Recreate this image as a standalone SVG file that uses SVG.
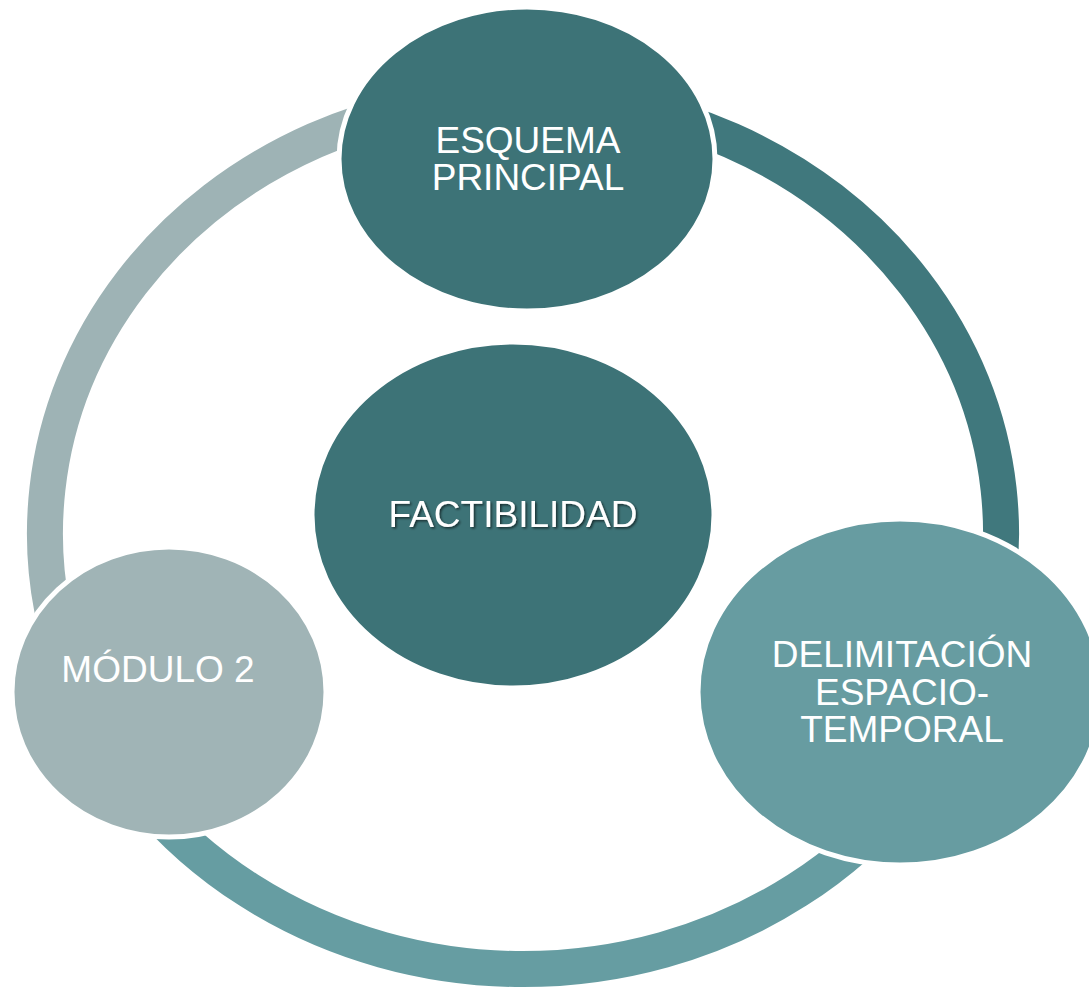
<svg xmlns="http://www.w3.org/2000/svg" width="1089" height="989" viewBox="0 0 1089 989">
<defs>
<style>
.ring{fill:none;stroke-width:36}
.node{stroke:#ffffff;stroke-width:5}
.lbl{font-family:"Liberation Sans",Arial,sans-serif;font-size:37px;fill:#ffffff;text-anchor:middle}
</style>
<filter id="sh" x="-10%" y="-30%" width="120%" height="160%">
<feDropShadow dx="1.5" dy="1.5" stdDeviation="1" flood-color="#000000" flood-opacity="0.6"/>
</filter>
</defs>
<rect width="1089" height="989" fill="#ffffff"/>
<g id="connectors">
<path class="ring" stroke="#40787D" d="M523,97 A478,436 0 0 1 972.2,682.1"/>
<path class="ring" stroke="#669DA2" d="M972.2,682.1 A478,436 0 0 1 73.8,682.1"/>
<path class="ring" stroke="#9EB3B5" d="M73.8,682.1 A478,436 0 0 1 523,97"/>
</g>
<g id="node-esquema">
<ellipse class="node" cx="527" cy="159" rx="188" ry="152" fill="#3D7377"/>
<text class="lbl" x="528" y="153">ESQUEMA</text>
<text class="lbl" x="528" y="190">PRINCIPAL</text>
</g>
<g id="node-factibilidad">
<ellipse class="node" cx="513" cy="515" rx="201" ry="173" fill="#3D7377"/>
<text class="lbl" x="513" y="527" filter="url(#sh)">FACTIBILIDAD</text>
</g>
<g id="node-delimitacion">
<ellipse class="node" cx="900" cy="692" rx="202" ry="173" fill="#679CA1"/>
<text class="lbl" x="902" y="667">DELIMITACIÓN</text>
<text class="lbl" x="902" y="705">ESPACIO-</text>
<text class="lbl" x="902" y="742">TEMPORAL</text>
</g>
<g id="node-modulo">
<ellipse class="node" cx="169" cy="692" rx="157" ry="145" fill="#A0B4B6"/>
<text class="lbl" x="158" y="682">MÓDULO 2</text>
</g>
</svg>
